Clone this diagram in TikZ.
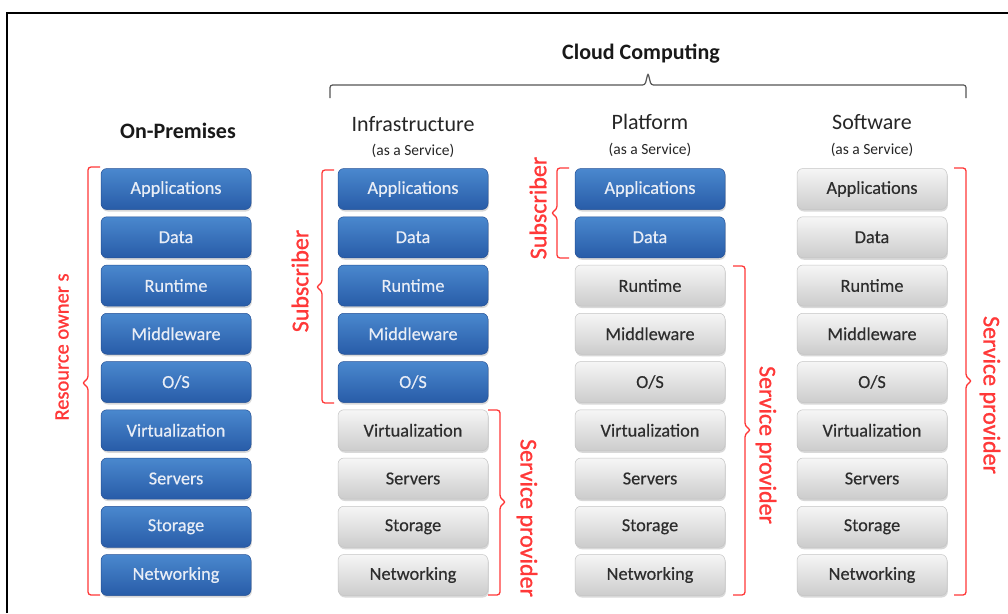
\documentclass[tikz,border=0pt]{standalone}
\usepackage{fontspec}
\setmainfont{Carlito}
\newfontface\medface[FakeBold=1]{Carlito}
\newfontface\semiface[FakeBold=0.4]{Carlito}
\usetikzlibrary{shadows}
\definecolor{bluetop}{RGB}{74,136,206}
\definecolor{bluebot}{RGB}{40,92,168}
\definecolor{blueedge}{RGB}{36,80,150}
\definecolor{graytop}{RGB}{246,246,246}
\definecolor{graybot}{RGB}{204,204,204}
\definecolor{grayedge}{RGB}{196,196,196}
\definecolor{bracered}{RGB}{255,56,56}
\definecolor{gtext}{RGB}{45,45,45}
\definecolor{btext}{RGB}{232,237,246}
\definecolor{bracegray}{RGB}{85,85,85}
\tikzset{
  layerbox/.style={minimum width=150pt, minimum height=41pt, rounded corners=6pt,
    inner sep=0pt, font=\semiface\fontsize{18.3}{20}\selectfont,
    drop shadow={opacity=0.3, shadow xshift=0.8pt, shadow yshift=-2pt}},
  bluebox/.style={layerbox, top color=bluetop, bottom color=bluebot, draw=blueedge, line width=0.5pt, text=btext},
  graybox/.style={layerbox, top color=graytop, bottom color=graybot, draw=grayedge, line width=0.5pt, text=gtext},
  redbr/.style={draw=bracered, line width=1.3pt, rounded corners=3pt},
  redlabel/.style={text=bracered, font=\medface\fontsize{24}{26}\selectfont, inner sep=0pt},
  coltitle/.style={font=\fontsize{22}{24}\selectfont, text=black!85, inner sep=0pt},
  colsub/.style={font=\fontsize{15.5}{17}\selectfont, text=black!85, inner sep=0pt},
  boldtitle/.style={font=\fontsize{22}{24}\selectfont\bfseries, text=black!90, inner sep=0pt},
}
\newcommand{\leftbrk}[4]{% x, ytop, ybot, ymid
  \draw[redbr] (#1+12,#2) -- (#1,#2) -- (#1,#4-4) -- (#1-6,#4) -- (#1,#4+4) -- (#1,#3) -- (#1+12,#3);}
\newcommand{\rightbrk}[4]{%
  \draw[redbr] (#1-12,#2) -- (#1,#2) -- (#1,#4-4) -- (#1+6,#4) -- (#1,#4+4) -- (#1,#3) -- (#1-12,#3);}
\begin{document}
\begin{tikzpicture}[x=1pt,y=-1pt]
\useasboundingbox (0,0) rectangle (1008,613);
\fill[white] (0,0) rectangle (1008,613);
% frame
\draw[line width=2.5pt, black] (7,613) -- (7,13) -- (1008,13);

% titles
\node[boldtitle] (cloud) at (641,54) {Cloud Computing};
\node[boldtitle] (onprem) at (178,131) {On-Premises};
\node[coltitle] (iaas) at (413,124) {Infrastructure};
\node[colsub] (iaassub) at (413,151) {(as a Service)};
\node[coltitle] (paas) at (650,122) {Platform};
\node[colsub] (paassub) at (650,150) {(as a Service)};
\node[coltitle] (saas) at (872,122) {Software};
\node[colsub] (saassub) at (872,150) {(as a Service)};

% cloud brace
\draw[bracegray, line width=1.2pt, rounded corners=2.5pt]
  (330,98) -- (330,85) -- (645,85) -- (648,73) -- (651,85) -- (966,85) -- (966,98);

% boxes
\foreach \cx/\nb/\cn in {176/9/op,413/5/ia,650/2/pa,872/0/sa}{
  \foreach \t [count=\i from 0] in {Applications,Data,Runtime,Middleware,O/S,Virtualization,Servers,Storage,Networking}{
    \ifnum\i<\nb
      \node[bluebox] (\cn\i) at (\cx,189+48.25*\i) {\t};
    \else
      \node[graybox] (\cn\i) at (\cx,189+48.25*\i) {\t};
    \fi
  }
}

% braces
\leftbrk{88}{167}{595}{383}
\node[redlabel, font=\medface\fontsize{20.5}{22}\selectfont, rotate=90] (resown) at (62,347) {Resource owner s};

\leftbrk{322}{170}{403}{287}
\node[redlabel, rotate=90] (iasub) at (300,281) {Subscriber};
\rightbrk{500}{410}{595}{502}
\node[redlabel, rotate=-90] (iasp) at (527,518) {Service provider};

\leftbrk{557}{168}{258}{213}
\node[redlabel, rotate=90] (pasub) at (538,208) {Subscriber};
\rightbrk{745}{266}{595}{430}
\node[redlabel, rotate=-90] (pasp) at (766,445) {Service provider};

\rightbrk{966}{168}{595}{381}
\node[redlabel, rotate=-90] (sasp) at (990,395) {Service provider};
\end{tikzpicture}
\end{document}
